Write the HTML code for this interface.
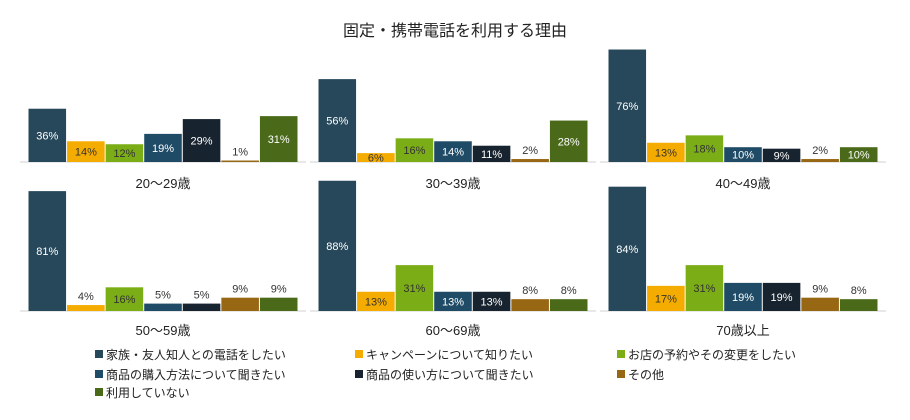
<!DOCTYPE html>
<html><head><meta charset="utf-8"><style>
body{margin:0;background:#fff;}
svg{display:block;font-family:"Liberation Sans","Noto Sans CJK JP",sans-serif;}
</style></head><body>
<svg id="chart" width="910" height="420">
<text x="455" y="36" text-anchor="middle" font-size="16" fill="#222">固定・携帯電話を利用する理由</text>
</svg>
<script>
const groups=["20～29歳","30～39歳","40～49歳","50～59歳","60～69歳","70歳以上"];
const seriesNames=["家族・友人知人との電話をしたい","キャンペーンについて知りたい","お店の予約やその変更をしたい","商品の購入方法について聞きたい","商品の使い方について聞きたい","その他","利用していない"];
const s0=[36,56,76,81,88,84];
const s1=[14,6,13,4,13,17];
const s2=[12,16,18,16,31,31];
const s3=[19,14,10,5,13,19];
const s4=[29,11,9,5,13,19];
const s5=[1,2,2,9,8,9];
const s6=[31,28,10,9,8,8];
const series=[s0,s1,s2,s3,s4,s5,s6];
const colors=["#27485a","#f5ac00","#7aad16","#1f4b66","#17232e","#976713","#4a6a1a"];
const textCol=["#fff","#333","#333","#fff","#fff","#333","#fff"];
const svg=document.getElementById('chart');
const NS="http://www.w3.org/2000/svg";
function mk(t,a){const e=document.createElementNS(NS,t);for(const k in a)e.setAttribute(k,a[k]);svg.appendChild(e);return e;}
const px0=[28,318,608],base=[162,311],pw=270,scale=1.48;
const thresh=[5,9];
function yv(v,r){return base[r]-v*scale;}
groups.forEach((g,gi)=>{
  const c=gi%3,r=Math.floor(gi/3);const x0=px0[c];const bw=pw/7;
  const ax=mk('line',{x1:x0-8,x2:x0+pw+8,y1:base[r],y2:base[r],stroke:'#d0d0d0'});
  
  
  series.forEach((s,si)=>{
    const v=s[gi];const y=yv(v,r);const x=x0+si*bw;
    const b=mk('rect',{x:x+0.5,y:y,width:bw-1,height:base[r]-y,fill:colors[si]});
    
    
    const inside=v>thresh[r];
    const t=mk('text',{x:x+bw/2,y:inside?(y+base[r])/2+4:y-5,'text-anchor':'middle','font-size':'11',fill:inside?textCol[si]:'#333'});
    t.textContent=v+'%';
    
    
  });
  const gl=mk('text',{x:x0+pw/2,y:base[r]+(r?24:26),'text-anchor':'middle','font-size':'13',fill:'#222'});
  gl.textContent=g;
  
  
});
const lx=[95,355,617],ly=[359,379,397];
seriesNames.forEach((n,i)=>{
  const x=lx[i%3],y=ly[Math.floor(i/3)];
  const sq=mk('rect',{x:x,y:y-9,width:8,height:8,fill:colors[i]});
  
  
  const t=mk('text',{x:x+11,y:y,'font-size':'12',fill:'#222'});
  t.textContent=n;
  
  
});
</script>
</body></html>
